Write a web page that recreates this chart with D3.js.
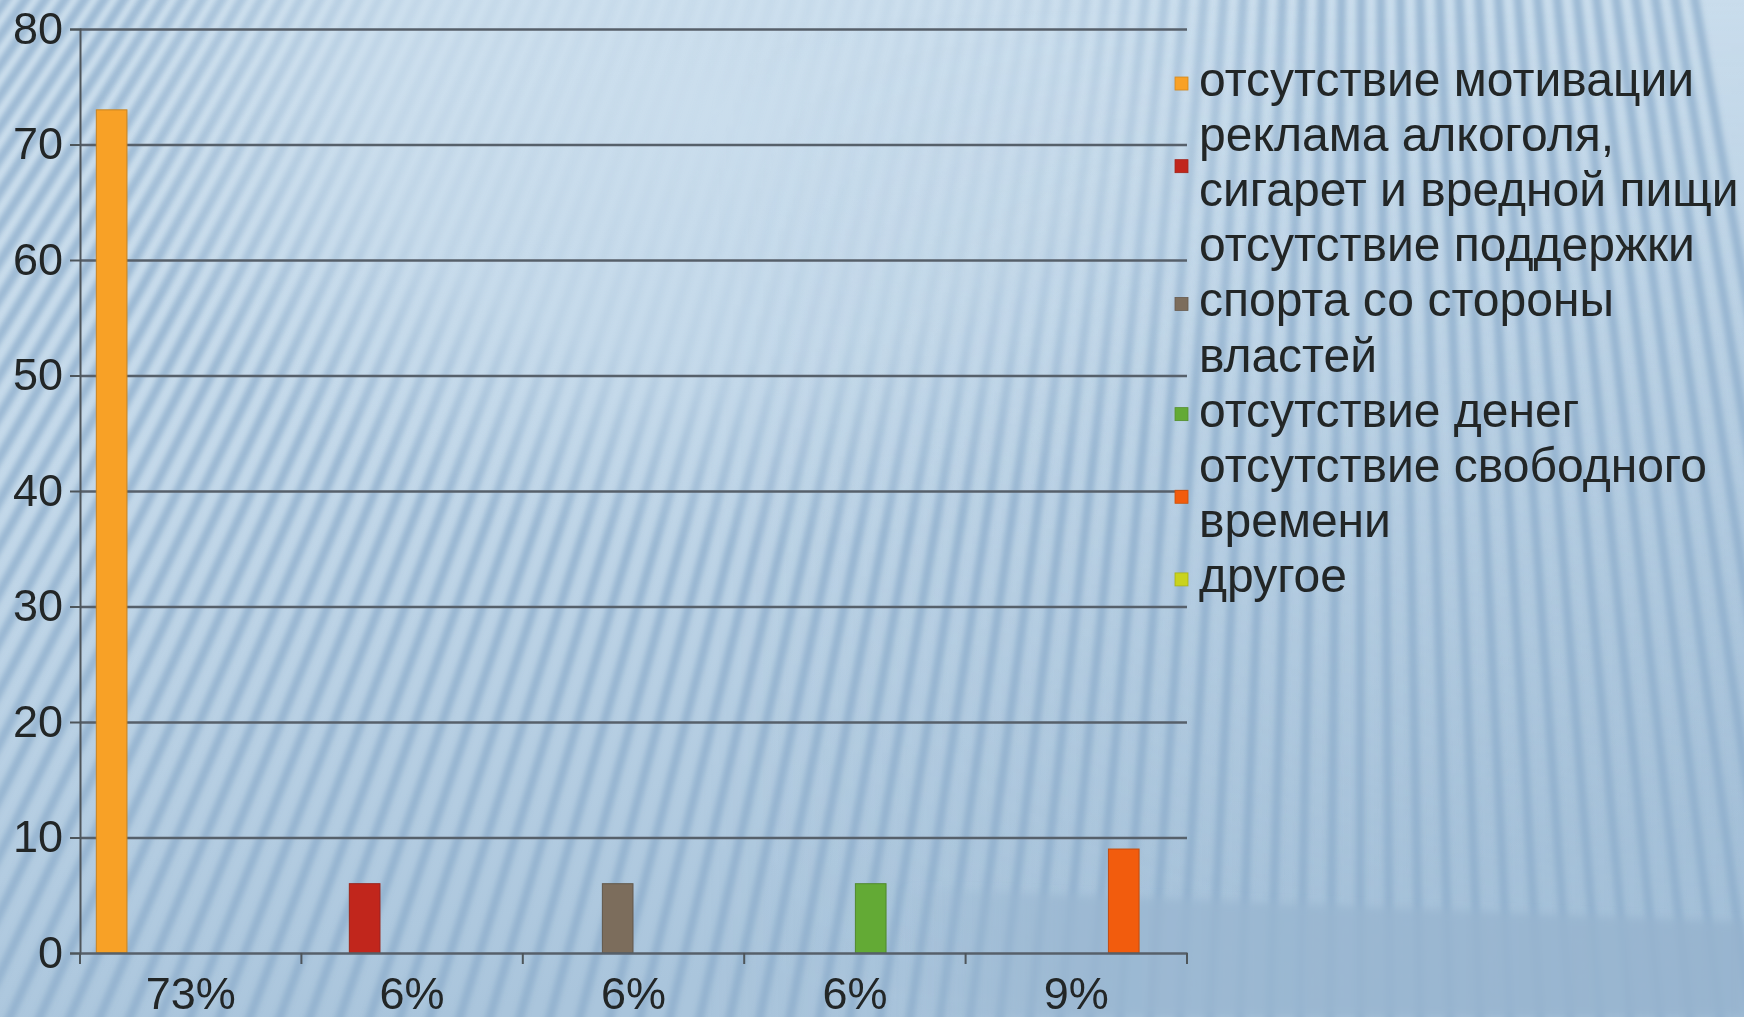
<!DOCTYPE html>
<html>
<head>
<meta charset="utf-8">
<script src="https://cdn.jsdelivr.net/npm/d3@7"></script>
<style>
  html, body { margin: 0; padding: 0; background: #c6dbeb; }
  svg { display: block; }
  text { font-family: "Liberation Sans", Arial, sans-serif; fill: #242628; }
</style>
</head>
<body>
<svg id="chart" width="1744" height="1017"></svg>
<script>
// Category tick labels (share of respondents per reason)
const categories = ["73%", "6%", "6%", "6%", "9%"];

// Series (reasons) shown in the legend
const seriesNames = [
  "отсутствие мотивации",
  "реклама алкоголя, сигарет и вредной пищи",
  "отсутствие поддержки спорта со стороны властей",
  "отсутствие денег",
  "отсутствие свободного времени",
  "другое"
];

// Legend labels broken into lines
const legendLines = [
  ["отсутствие мотивации"],
  ["реклама алкоголя,", "сигарет и вредной пищи"],
  ["отсутствие поддержки", "спорта со стороны", "властей"],
  ["отсутствие денег"],
  ["отсутствие свободного", "времени"],
  ["другое"]
];

// Values of each series per category
const motivationValues  = [73, 0, 0, 0, 0];
const advertisingValues = [0, 6, 0, 0, 0];
const supportValues     = [0, 0, 6, 0, 0];
const moneyValues       = [0, 0, 0, 6, 0];
const timeValues        = [0, 0, 0, 0, 9];
const otherValues       = [0, 0, 0, 0, 0];
const seriesValues = [motivationValues, advertisingValues, supportValues, moneyValues, timeValues, otherValues];

const seriesColors = ["#f8a126", "#c1281f", "#7b6d5c", "#63aa36", "#f25c0c", "#c9d31c"];
const yTicks = [0, 10, 20, 30, 40, 50, 60, 70, 80];

const W = 1744, H = 1017;
const plot = { left: 80, right: 1187, top: 29, bottom: 953 };

const svg = d3.select("#chart");
const defs = svg.append("defs");

// ---------- background ----------
const bg = defs.append("linearGradient").attr("id", "bgGrad")
  .attr("x1", 0).attr("y1", 0).attr("x2", 0.25).attr("y2", 1);
bg.append("stop").attr("offset", "0%").attr("stop-color", "#cfe1ef");
bg.append("stop").attr("offset", "45%").attr("stop-color", "#c4d9ea");
bg.append("stop").attr("offset", "100%").attr("stop-color", "#aac5dc");

svg.append("rect").attr("width", W).attr("height", H).attr("fill", "url(#bgGrad)");

// right side darkens slightly towards the bottom
const side = defs.append("linearGradient").attr("id", "sideGrad")
  .attr("x1", 0).attr("y1", 0).attr("x2", 1).attr("y2", 0);
side.append("stop").attr("offset", "0%").attr("stop-color", "#9dbad4").attr("stop-opacity", 0);
side.append("stop").attr("offset", "100%").attr("stop-color", "#9dbad4").attr("stop-opacity", 0.55);
const sideV = defs.append("linearGradient").attr("id", "sideMaskGrad")
  .attr("x1", 0).attr("y1", 0).attr("x2", 0).attr("y2", 1);
sideV.append("stop").attr("offset", "0%").attr("stop-color", "#000");
sideV.append("stop").attr("offset", "100%").attr("stop-color", "#fff");
defs.append("mask").attr("id", "sideMask").append("rect")
  .attr("width", W).attr("height", H).attr("fill", "url(#sideMaskGrad)");
svg.append("rect").attr("x", 700).attr("width", W - 700).attr("height", H)
  .attr("fill", "url(#sideGrad)").attr("mask", "url(#sideMask)");

// stripes radiating from a point high above the slide
defs.append("filter").attr("id", "stripeBlur")
  .attr("x", "-5%").attr("y", "-5%").attr("width", "110%").attr("height", "110%")
  .append("feGaussianBlur").attr("stdDeviation", 2.6);

const fade = defs.append("radialGradient").attr("id", "fadeGrad")
  .attr("cx", 0.5).attr("cy", 0.5).attr("r", 0.5);
fade.append("stop").attr("offset", "0%").attr("stop-color", "#000");
fade.append("stop").attr("offset", "55%").attr("stop-color", "#333");
fade.append("stop").attr("offset", "100%").attr("stop-color", "#fff");
const stripeMask = defs.append("mask").attr("id", "stripeMask");
stripeMask.append("rect").attr("width", W).attr("height", H).attr("fill", "#fff");
stripeMask.append("ellipse").attr("cx", 720).attr("cy", 120)
  .attr("rx", 620).attr("ry", 430).attr("fill", "url(#fadeGrad)");

const vp = { x: 1363, y: -1930 };
const stripeG = svg.append("g").attr("mask", "url(#stripeMask)")
  .append("g").attr("filter", "url(#stripeBlur)");
const stripeStep = 30;
const bottomXs = d3.range(-1400, 1900, stripeStep);
stripeG.selectAll("line").data(bottomXs).join("line")
  .attr("x1", vp.x).attr("y1", vp.y)
  .attr("x2", d => vp.x + (d - vp.x) * 1.1)
  .attr("y2", vp.y + (H - vp.y) * 1.1)
  .attr("stroke", "#8eaecb").attr("stroke-width", 9).attr("stroke-opacity", 0.75);

// darker floor band across the lower right
defs.append("filter").attr("id", "bandBlur")
  .append("feGaussianBlur").attr("stdDeviation", 4);
const bandGrad = defs.append("linearGradient").attr("id", "bandGrad")
  .attr("x1", 0).attr("y1", 0).attr("x2", 1).attr("y2", 0);
bandGrad.append("stop").attr("offset", "0%").attr("stop-color", "#9ab7d1").attr("stop-opacity", 0);
bandGrad.append("stop").attr("offset", "20%").attr("stop-color", "#9ab7d1").attr("stop-opacity", 0.8);
bandGrad.append("stop").attr("offset", "100%").attr("stop-color", "#96b3ce").attr("stop-opacity", 0.85);
svg.append("path")
  .attr("d", "M900,888 L1744,922 L1744,1017 L900,1017 Z")
  .attr("fill", "url(#bandGrad)").attr("filter", "url(#bandBlur)");

// ---------- chart ----------
defs.append("filter").attr("id", "soft")
  .append("feGaussianBlur").attr("stdDeviation", 0.55);
const chart = svg.append("g").attr("filter", "url(#soft)");

const y = d3.scaleLinear().domain([0, 80]).range([plot.bottom, plot.top]);
const x0 = d3.scaleBand().domain(d3.range(categories.length))
  .range([plot.left, plot.right]).paddingInner(0).paddingOuter(0);
const x1 = d3.scaleBand().domain(d3.range(seriesNames.length))
  .range([0, x0.bandwidth()]).paddingInner(0).paddingOuter(0.5);

// horizontal gridlines
const grid = chart.append("g")
  .attr("transform", `translate(${plot.left},0)`)
  .call(d3.axisLeft(y).tickValues(yTicks.filter(v => v > 0))
    .tickSize(-(plot.right - plot.left)).tickFormat(""));
grid.select(".domain").remove();
grid.selectAll("line").attr("stroke", "#56606a").attr("stroke-width", 2.6);

// bars
const bars = [];
seriesValues.forEach((vals, s) => vals.forEach((v, c) => { if (v > 0) bars.push({ s, c, v }); }));
chart.append("g").selectAll("rect").data(bars).join("rect")
  .attr("x", d => x0(d.c) + x1(d.s) + 0.5)
  .attr("y", d => y(d.v))
  .attr("width", x1.bandwidth() - 1)
  .attr("height", d => y(0) - y(d.v))
  .attr("fill", d => seriesColors[d.s])
  .attr("stroke", d => d3.color(seriesColors[d.s]).darker(0.6))
  .attr("stroke-width", 1);

// y axis
const yAxis = chart.append("g")
  .attr("transform", `translate(${plot.left},0)`)
  .call(d3.axisLeft(y).tickValues(yTicks).tickSize(10).tickPadding(7));
yAxis.select(".domain").attr("stroke", "#4e545a").attr("stroke-width", 2);
yAxis.selectAll("line").attr("stroke", "#4e545a").attr("stroke-width", 2);
yAxis.selectAll("text").attr("font-size", 45).attr("fill", "#242628")
  .attr("font-family", "Liberation Sans, Arial, sans-serif");

// x axis: baseline, boundary ticks and category labels
const xAxis = chart.append("g")
  .attr("transform", `translate(0,${plot.bottom})`)
  .call(d3.axisBottom(x0).tickSize(0).tickPadding(24).tickFormat(i => categories[i]));
xAxis.select(".domain").attr("stroke", "#56606a").attr("stroke-width", 2.6);
xAxis.selectAll("text").attr("font-size", 45).attr("fill", "#242628")
  .attr("font-family", "Liberation Sans, Arial, sans-serif");
const bounds = d3.range(categories.length + 1).map(i =>
  i < categories.length ? x0(i) : x0(categories.length - 1) + x0.bandwidth());
xAxis.append("g").selectAll("line").data(bounds).join("line")
  .attr("x1", d => d).attr("x2", d => d).attr("y1", 0).attr("y2", 11)
  .attr("stroke", "#4e545a").attr("stroke-width", 2);

// legend
const legendFont = 48, lineStep = 55.1, firstBaseline = 96;
const legend = chart.append("g");
let row = 0;
legendLines.forEach((lines, i) => {
  const baselines = lines.map((_, k) => firstBaseline + (row + k) * lineStep);
  const centerY = d3.mean(baselines) - legendFont * 0.26;
  legend.append("rect")
    .attr("x", 1175).attr("y", centerY - 6.5).attr("width", 13).attr("height", 13)
    .attr("fill", seriesColors[i])
    .attr("stroke", d3.color(seriesColors[i]).darker(0.5)).attr("stroke-width", 0.8);
  lines.forEach((t, k) => {
    legend.append("text").attr("x", 1199).attr("y", baselines[k])
      .attr("font-size", legendFont).text(t);
  });
  row += lines.length;
});
</script>
</body>
</html>
